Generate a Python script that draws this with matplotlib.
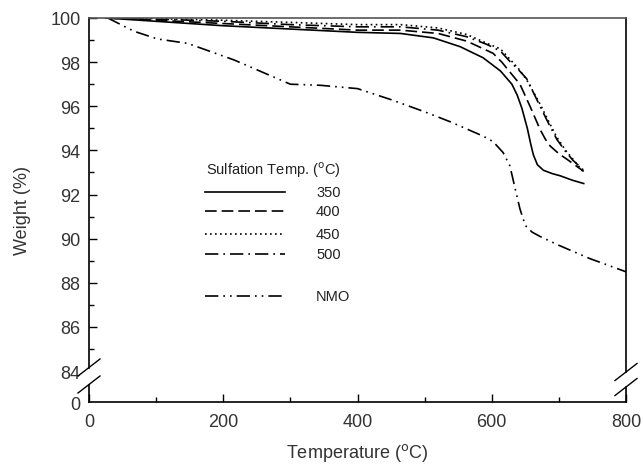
import matplotlib
matplotlib.use("Agg")
import matplotlib.pyplot as plt
from matplotlib.lines import Line2D

plt.rcParams['font.family'] = ['Liberation Sans', 'DejaVu Sans']

# ---- data ----
T_350 = [25, 100, 200, 300, 400, 464, 513, 553, 587, 613, 630, 638, 645, 653, 658, 662, 668, 677, 690, 702, 720, 737]
W_350 = [100, 99.85, 99.65, 99.5, 99.35, 99.3, 99.1, 98.7, 98.2, 97.6, 97.0, 96.5, 95.9, 95.0, 94.3, 93.8, 93.35, 93.1, 92.95, 92.85, 92.65, 92.5]

T_400 = [25, 100, 200, 300, 400, 464, 520, 563, 602, 615, 623, 642, 657, 672, 680, 687, 700, 712, 737]
W_400 = [100, 99.9, 99.75, 99.6, 99.45, 99.45, 99.3, 98.95, 98.4, 98.0, 97.7, 97.0, 96.0, 94.95, 94.5, 94.2, 93.85, 93.6, 93.05]

T_450 = [25, 100, 200, 300, 400, 464, 520, 563, 593, 613, 628, 640, 652, 672, 685, 697, 710, 721, 737]
W_450 = [100, 99.97, 99.9, 99.8, 99.7, 99.7, 99.55, 99.25, 98.85, 98.6, 98.1, 97.7, 97.2, 96.1, 95.3, 94.6, 94.0, 93.6, 93.0]

T_500 = [25, 100, 200, 300, 400, 464, 520, 563, 593, 613, 628, 640, 652, 672, 685, 697, 710, 721, 737]
W_500 = [100, 99.95, 99.85, 99.7, 99.6, 99.6, 99.45, 99.15, 98.8, 98.5, 98.0, 97.65, 97.25, 96.0, 95.2, 94.5, 93.95, 93.55, 93.1]

T_NMO = [28, 67, 102, 147, 216, 300, 345, 400, 450, 500, 538, 587, 602, 617, 627, 635, 642, 650, 660, 672, 700, 746, 800]
W_NMO = [100, 99.4, 99.05, 98.85, 98.1, 97.0, 96.95, 96.8, 96.3, 95.75, 95.3, 94.65, 94.4, 93.9, 93.3, 92.25, 91.35, 90.6, 90.3, 90.1, 89.7, 89.1, 88.5]

labels = ['350', '400', '450', '500', 'NMO']
styles = ['-', (0, (7, 3)), (0, (1, 2)), (0, (8, 3, 1, 3)), (0, (8, 3, 1, 3, 1, 3))]

y_zero_pos = 82.6  # position where the broken axis shows "0"
ytick_vals = [y_zero_pos] + list(range(84, 101, 2))
ytick_labels = ['0'] + [str(v) for v in range(84, 101, 2)]
xtick_vals = [0, 200, 400, 600, 800]

fig = plt.figure(figsize=(6.43, 4.77), dpi=100)
ax = fig.add_axes([89/643, 1-403/477, (626-89)/643, (403-19)/477])

series = [(T_350, W_350), (T_400, W_400), (T_450, W_450), (T_500, W_500), (T_NMO, W_NMO)]
for (t, w), ls in zip(series, styles):
    ax.plot(t, w, color='black', lw=1.2, linestyle=ls)

ax.set_xlim(0, 800)
ax.set_ylim(y_zero_pos, 100)
ax.set_xticks(xtick_vals)
ax.set_xticks([100, 300, 500, 700], minor=True)
ax.set_yticks(ytick_vals)
ax.set_yticklabels(ytick_labels)
ax.set_yticks(list(range(85, 100, 2)), minor=True)
ax.tick_params(axis='both', which='both', direction='in', color='black', width=1.0,
               labelsize=13, colors='#333333')
ax.tick_params(axis='both', which='major', length=6)
ax.tick_params(axis='both', which='minor', length=3.5)
ax.tick_params(axis='x', pad=8)
ax.tick_params(axis='y', pad=6)
ticks = ax.yaxis.get_major_ticks()
ticks[0].tick1line.set_visible(False)
ticks[1].tick1line.set_visible(False)

ax.set_xlabel('Temperature ($^{\\rm o}$C)', fontsize=13, color='#333333', labelpad=8)
ax.set_ylabel('Weight (%)', fontsize=13, color='#333333', labelpad=14)

# spines with break
for s in ['left', 'right']:
    ax.spines[s].set_visible(False)
for s in ['top', 'bottom']:
    ax.spines[s].set_linewidth(1.2)
ax.spines['top'].set_color('#555555')

H = 403 - 19
Wd = 626 - 89
def fy(py):
    return (403 - py) / H

for xa, up, lo in [(0, 368.5, 385.5), (1, 373, 388)]:
    ax.add_line(Line2D([xa, xa], [fy(up), 1], transform=ax.transAxes, color='black', lw=1.2, clip_on=False))
    ax.add_line(Line2D([xa, xa], [0, fy(lo)], transform=ax.transAxes, color='black', lw=1.2, clip_on=False))
    for c in (up, lo):
        ax.add_line(Line2D([xa - 11/Wd, xa + 11/Wd], [fy(c + 8.5), fy(c - 8.5)],
                           transform=ax.transAxes, color='black', lw=1.0, clip_on=False))

# legend drawn manually
fig.text(206/643, 1-170/477, 'Sulfation Temp. ($^{\\rm o}$C)',
         fontsize=10.5, va='center', ha='left', color='#222222')
rows_y = [193, 212, 235, 255, 297]
for lab, ls, py in zip(labels, styles, rows_y):
    fig.add_artist(Line2D([205/643, 285/643], [1-py/477, 1-py/477], color='black', lw=1.2, linestyle=ls))
    fig.text(316/643, 1-py/477, lab, fontsize=10.5, va='center', ha='left', color='#222222')

fig.savefig('out.png', dpi=100)
